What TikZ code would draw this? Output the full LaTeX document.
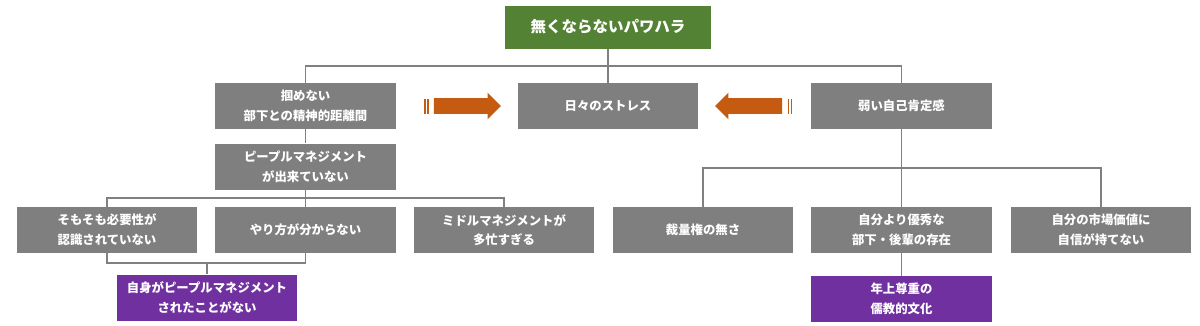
\documentclass[tikz,border=0pt]{standalone}
\usepackage{fontspec}
\setmainfont{Noto Sans CJK JP}
\usetikzlibrary{shapes.arrows}
\definecolor{TitleGreen} {RGB}{ 84,130, 53}
\definecolor{BoxGray}    {RGB}{127,127,127}
\definecolor{LineGray}   {RGB}{128,128,128}
\definecolor{CausePurple}{RGB}{112, 48,160}
\definecolor{ArrowOrange}{RGB}{197, 90, 17}
\tikzset{
  %% 見出し：緑
  ttlbox/.style={rectangle,fill=TitleGreen,text=white,
                 minimum width=5.125cm,minimum height=1.075cm,
                 font=\fontsize{11}{14}\selectfont\bfseries,align=center},
  %% 要因：灰/紫
  gbox/.style={rectangle,fill=BoxGray,text=white,
               minimum width=4.5cm,minimum height=1.15cm,
               font=\fontsize{8.8}{14}\selectfont\bfseries,align=center},
  pbox/.style={rectangle,fill=CausePurple,text=white,
               minimum width=4.5cm,minimum height=1.15cm,
               font=\fontsize{8.8}{14}\selectfont\bfseries,align=center},
  %% 接続線
  link/.style={draw=LineGray,line width=1.1pt},
  %% 太矢印
  bigarr/.style={single arrow,fill=ArrowOrange,inner xsep=0pt,
                 inner ysep=0.1875cm,minimum height=1.675cm,
                 single arrow head extend=0.1375cm},
}
\begin{document}
\begin{tikzpicture}[x=0.025cm,y=-0.025cm]
  \useasboundingbox (0,0) rectangle (1200,325);

  \node[ttlbox] (TOP) at (608,27) {無くならないパワハラ};

  \node[gbox] (DIST)   at (305.5,106) {掴めない\\部下との精神的距離間};
  \node[gbox] (STRESS) at (608,106)   {日々のストレス};
  \node[gbox] (SELF)   at (901.5,106) {弱い自己肯定感};

  \node[gbox] (PM)     at (305.5,166.5) {ピープルマネジメント\\が出来ていない};

  \node[gbox] (NEED)   at (107,230)   {そもそも必要性が\\認識されていない};
  \node[gbox] (HOW)    at (305.5,230) {やり方が分からない};
  \node[gbox] (BUSY)   at (504,230)   {ミドルマネジメントが\\多忙すぎる};
  \node[gbox] (AUTH)   at (703,230)   {裁量権の無さ};
  \node[gbox] (JUNIOR) at (901.5,230) {自分より優秀な\\部下・後輩の存在};
  \node[gbox] (VALUE)  at (1101,230)  {自分の市場価値に\\自信が持てない};

  \node[pbox] (NOPM)   at (207,297.5)   {自身がピープルマネジメント\\されたことがない};
  \node[pbox] (CONF)   at (901.5,299) {年上尊重の\\儒教的文化};

  %% 太矢印（縞付き）
  \node[bigarr] (RARR) at (463.5,106) {};
  \node[bigarr,shape border rotate=180] (LARR) at (752.5,106) {};
  \foreach \x in {424,427}
    \fill[ArrowOrange] (\x,98.5) rectangle (\x+1.5,113.5);
  \foreach \x in {787.5,790.5}
    \fill[ArrowOrange] (\x,98.5) rectangle (\x+1.5,113.5);

  %% 分岐点
  \coordinate (B1) at (608,66);
  \coordinate (B2) at (305.5,198);
  \coordinate (B3) at (901.5,168);
  \coordinate (B4) at (207,263);

  \draw[link] (TOP.south) -- (STRESS.north);
  \draw[link] (DIST.north) |- (B1) -| (SELF.north);
  \draw[link] (DIST.south) -- (PM.north);
  \draw[link] (PM.south) -- (HOW.north);
  \draw[link] (NEED.north) |- (B2) -| (BUSY.north);
  \draw[link] (SELF.south) -- (JUNIOR.north);
  \draw[link] (AUTH.north) |- (B3) -| (VALUE.north);
  \draw[link] (NEED.south) |- (B4) -| (HOW.south);
  \draw[link] (B4) -- (NOPM.north);
  \draw[link] (JUNIOR.south) -- (CONF.north);
\end{tikzpicture}
\end{document}
